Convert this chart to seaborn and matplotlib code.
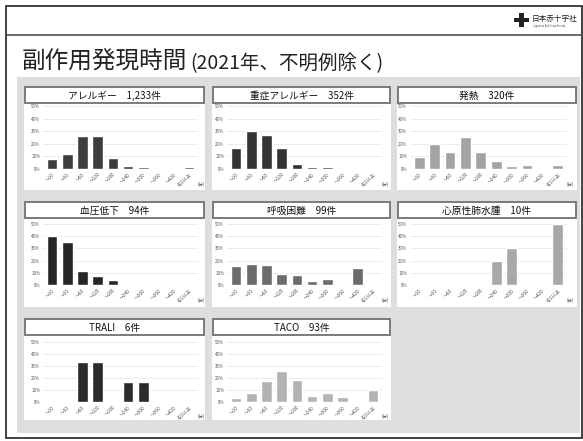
import matplotlib
matplotlib.use("Agg")
import matplotlib.pyplot as plt
from matplotlib.patches import Rectangle
import seaborn as sns
import pandas as pd

sns.set_theme(style="white")
plt.rcParams['font.family'] = ['Noto Sans CJK JP', 'DejaVu Sans']

# ---------------- data ----------------
categories = ["～10", "～30", "～60", "～120", "～180", "～240", "～300", "～360", "～420", "421以上"]

allergy = [8.0, 12.0, 26.3, 25.8, 8.8, 2.4, 1.3, 0.5, 0.1, 1.3]
severe_allergy = [17.0, 30.0, 27.0, 17.0, 4.0, 1.5, 1.5, 0.6, 0.6, 0.3]
fever = [9.8, 19.6, 13.2, 25.4, 13.8, 6.6, 2.1, 2.9, 0.8, 3.2]
hypotension = [40.2, 35.0, 11.2, 7.1, 3.8, 0.8, 0.0, 0.0, 0.0, 0.0]
dyspnea = [15.4, 17.3, 16.5, 9.1, 8.2, 3.0, 5.2, 1.1, 14.3, 0.0]
cardiogenic_edema = [0.0, 0.0, 0.0, 0.0, 0.0, 20.0, 30.0, 0.0, 0.0, 50.0]
trali = [0.0, 0.0, 33.3, 33.3, 0.0, 16.7, 16.7, 0.0, 0.0, 0.0]
taco = [3.2, 7.5, 17.2, 25.8, 18.3, 5.4, 7.5, 4.3, 1.1, 9.7]

panel_titles = ["アレルギー　1,233件", "重症アレルギー　352件", "発熱　320件",
                "血圧低下　94件", "呼吸困難　99件", "心原性肺水腫　10件",
                "TRALI　6件", "TACO　93件"]
panel_values = [allergy, severe_allergy, fever, hypotension, dyspnea,
                cardiogenic_edema, trali, taco]
panel_colors = ["#3d3d3d", "#333333", "#a3a3a3", "#262626", "#6b6b6b",
                "#a8a8a8", "#2b2b2b", "#b3b3b3"]
yticks = [0, 10, 20, 30, 40, 50]
ytick_labels = ["0%", "10%", "20%", "30%", "40%", "50%"]

# ---------------- layout (pixels) ----------------
W, H = 583, 441
fig = plt.figure(figsize=(W / 100, H / 100), dpi=100)
fig.patch.set_facecolor("white")


def frect(x0, y0, x1, y1, zorder=-5, **kw):
    r = Rectangle((x0 / W, 1 - y1 / H), (x1 - x0) / W, (y1 - y0) / H,
                  transform=fig.transFigure, zorder=zorder, **kw)
    fig.patches.append(r)
    return r


def fbox(x0, y0, x1, y1):
    return [x0 / W, 1 - y1 / H, (x1 - x0) / W, (y1 - y0) / H]


# outer frame
frect(6, 6, 582, 438, facecolor="white", edgecolor="#222222", linewidth=1.2, zorder=-10)
# header line
fig.lines.append(plt.Line2D([6 / W, 582 / W], [1 - 35 / H, 1 - 35 / H],
                            transform=fig.transFigure, color="#444444", linewidth=1.1))
# logo
frect(519, 13, 524, 27, facecolor="#222222", edgecolor="none")
frect(514, 18, 529, 22, facecolor="#222222", edgecolor="none")
fig.text(532 / W, 1 - 19 / H, "日本赤十字社", fontsize=5.5, color="#222222",
         ha="left", va="center")
fig.text(533 / W, 1 - 26 / H, "Japanese Red Cross Society", fontsize=1.8,
         color="#444444", ha="left", va="center")

# title
fig.text(22 / W, 1 - 69 / H, "副作用発現時間", fontsize=17, color="#222222",
         ha="left", va="baseline")
fig.text(190 / W, 1 - 69 / H, "(2021年、不明例除く)", fontsize=14, color="#222222",
         ha="left", va="baseline")

# gray backdrop
frect(17, 77, 580, 433, facecolor="#dedede", edgecolor="none", zorder=-9)

cols_panel = [(24, 205), (212, 391), (397, 577)]
rows_panel = [(87, 190), (202, 307), (319, 420)]
rows_axes = [(106, 169), (224, 285), (342, 402)]
cols_axes = [(43, 198), (227, 382), (410, 567)]

for i, (title, vals, col) in enumerate(zip(panel_titles, panel_values, panel_colors)):
    r, c = divmod(i, 3)
    px0, px1 = cols_panel[c]
    py0, py1 = rows_panel[r]
    frect(px0, py0, px1, py1, facecolor="white", edgecolor="none", zorder=-8)
    frect(px0 + 1, py0, px1 - 1, py0 + 16, facecolor="white", edgecolor="#7a7a7a",
          linewidth=1.4, zorder=-7)
    fig.text((px0 + px1) / 2 / W, 1 - (py0 + 8.5) / H, title, fontsize=7,
             color="#111111", ha="center", va="center")

    ax0, ax1 = cols_axes[c]
    ay0, ay1 = rows_axes[r]
    ax = fig.add_axes(fbox(ax0, ay0, ax1, ay1))
    ax.set_zorder(5)
    df = pd.DataFrame({"time": categories, "pct": vals})
    sns.barplot(data=df, x="time", y="pct", ax=ax, color=col, saturation=1,
                width=0.7, order=categories)
    ax.set_ylim(0, 50)
    ax.set_xlim(-0.6, len(categories) - 0.4)
    ax.set_yticks(yticks)
    ax.set_yticklabels(ytick_labels, fontsize=3.2, color="#555555")
    ax.set_xticks(range(len(categories)))
    ax.set_xticklabels(categories, fontsize=3.4, color="#555555", rotation=45,
                       ha="right", rotation_mode="anchor")
    ax.tick_params(axis="both", length=0, pad=2)
    ax.set_xlabel("")
    ax.set_ylabel("")
    ax.set_facecolor("none")
    for s in ax.spines.values():
        s.set_visible(False)
    ax.yaxis.grid(True, color="#e3e3e3", linewidth=0.5)
    ax.set_axisbelow(True)
    ax.axhline(0, color="#c8c8c8", linewidth=0.6, zorder=0.5)
    ax.text(1.0, -0.2, "(分)", transform=ax.transAxes, fontsize=3.2,
            color="#555555", ha="left", va="top")

fig.savefig("out.png", dpi=100)
